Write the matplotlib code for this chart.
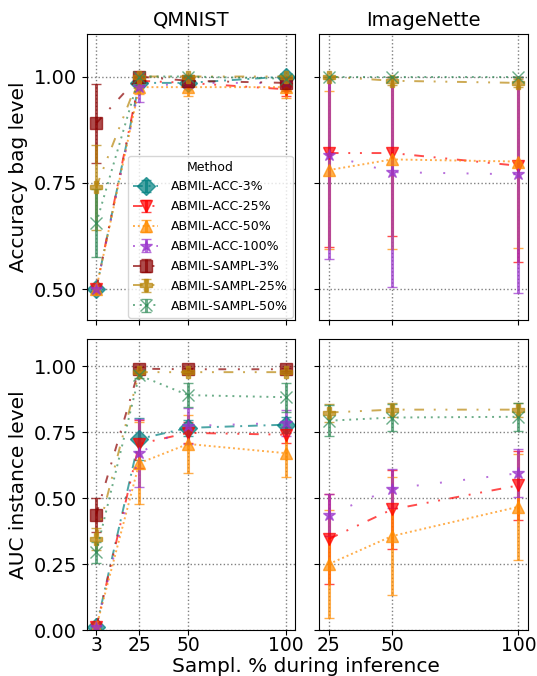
import numpy as np
import matplotlib
matplotlib.use("Agg")
import matplotlib.pyplot as plt

# methods + styles
methods = ["ABMIL-ACC-3%", "ABMIL-ACC-25%", "ABMIL-ACC-50%", "ABMIL-ACC-100%",
           "ABMIL-SAMPL-3%", "ABMIL-SAMPL-25%", "ABMIL-SAMPL-50%"]
colors = ["teal", "red", "darkorange", "darkorchid", "darkred", "darkgoldenrod", "seagreen"]
markers = ["D", "v", "^", "*", "s", "P", "x"]
dashes = [(5, 3, 1, 3), (5, 5, 1, 5, 1, 5), (1, 1.5), (1, 11), (4, 6, 1, 6),
          (5, 5, 1, 5, 1, 5), (1, 2.5)]

x_qmnist = [3, 25, 50, 100]
x_inette = [25, 50, 100]

# QMNIST - bag accuracy
qm_bag = [[0.50, 0.985, 0.985, 1.00],
          [0.50, 0.99, 0.985, 0.97],
          [0.50, 0.975, 0.975, 0.975],
          [0.50, 0.975, 0.985, 0.985],
          [0.89, 1.00, 0.99, 0.985],
          [0.74, 1.00, 1.00, 1.00],
          [0.655, 1.00, 1.00, 0.995]]
qm_bag_err = [[0.005, 0.01, 0.01, 0.005],
              [0.005, 0.01, 0.01, 0.015],
              [0.005, 0.015, 0.02, 0.025],
              [0.005, 0.035, 0.01, 0.01],
              [0.093, 0.005, 0.01, 0.02],
              [0.10, 0.0, 0.0, 0.0],
              [0.08, 0.0, 0.0, 0.01]]

# ImageNette - bag accuracy (no ACC-3% / SAMPL-3% runs)
in_bag = [[np.nan] * 3,
          [0.82, 0.82, 0.79],
          [0.78, 0.805, 0.80],
          [0.815, 0.775, 0.77],
          [np.nan] * 3,
          [1.00, 0.99, 0.985],
          [1.00, 1.00, 1.00]]
in_bag_err = [[0, 0, 0],
              [0.22, 0.195, 0.226],
              [0.185, 0.21, 0.203],
              [0.245, 0.27, 0.28],
              [0, 0, 0],
              [0.005, 0.01, 0.01],
              [0.0, 0.0, 0.0]]

# QMNIST - instance AUC
qm_auc = [[0.01, 0.724, 0.766, 0.778],
          [0.01, 0.705, 0.747, 0.74],
          [0.01, 0.632, 0.705, 0.67],
          [0.01, 0.67, 0.773, 0.785],
          [0.437, 0.99, 0.988, 0.988],
          [0.345, 0.977, 0.977, 0.977],
          [0.295, 0.965, 0.89, 0.882]]
qm_auc_err = [[0.005, 0.08, 0.03, 0.03],
              [0.005, 0.09, 0.04, 0.03],
              [0.005, 0.155, 0.11, 0.09],
              [0.005, 0.13, 0.07, 0.05],
              [0.065, 0.005, 0.005, 0.005],
              [0.04, 0.005, 0.005, 0.005],
              [0.04, 0.01, 0.045, 0.055]]

# ImageNette - instance AUC
in_auc = [[np.nan] * 3,
          [0.345, 0.457, 0.548],
          [0.25, 0.356, 0.467],
          [0.437, 0.536, 0.594],
          [np.nan] * 3,
          [0.824, 0.835, 0.835],
          [0.793, 0.805, 0.808]]
in_auc_err = [[0, 0, 0],
              [0.17, 0.15, 0.13],
              [0.205, 0.222, 0.2],
              [0.08, 0.075, 0.09],
              [0, 0, 0],
              [0.034, 0.027, 0.027],
              [0.058, 0.05, 0.053]]


def draw(ax, xs, ys, errs):
    for i in range(len(methods)):
        y = np.array(ys[i], dtype=float)
        e = np.array(errs[i], dtype=float)
        hi = np.minimum(y + e, 1.0) - y
        eb = ax.errorbar(xs, y, yerr=[e, hi], color=colors[i], marker=markers[i],
                         markersize=9, linewidth=1.4, elinewidth=2.2, capsize=3.5,
                         alpha=0.7, label=methods[i])
        eb.lines[0].set_dashes(dashes[i])
    ax.grid(True, linestyle=":", color="gray", linewidth=1)
    ax.tick_params(axis="y", labelsize=14)
    ax.tick_params(axis="x", labelsize=13.5, pad=1)


fig, axes = plt.subplots(2, 2, figsize=(5.37, 6.76), dpi=100, sharey="row",
                         gridspec_kw={"height_ratios": [286, 291]})
plt.subplots_adjust(left=0.1615, right=0.9832, bottom=0.068, top=0.9497,
                    wspace=0.115, hspace=0.065)

draw(axes[0, 0], x_qmnist, qm_bag, qm_bag_err)
draw(axes[0, 1], x_inette, in_bag, in_bag_err)
draw(axes[1, 0], x_qmnist, qm_auc, qm_auc_err)
draw(axes[1, 1], x_inette, in_auc, in_auc_err)

for ax in axes[:, 0]:
    ax.set_xticks(x_qmnist)
for ax in axes[:, 1]:
    ax.set_xticks(x_inette)
for ax in axes[0, :]:
    ax.set_ylim(0.427, 1.1)
    ax.set_yticks([0.5, 0.75, 1.0])
    ax.tick_params(labelbottom=False)
for ax in axes[1, :]:
    ax.set_ylim(0.0, 1.103)
    ax.set_yticks([0.0, 0.25, 0.5, 0.75, 1.0])

axes[0, 0].set_yticklabels(["0.50", "0.75", "1.00"])
axes[1, 0].set_yticklabels(["0.00", "0.25", "0.50", "0.75", "1.00"])

axes[0, 0].set_title("QMNIST", fontsize=14)
axes[0, 1].set_title("ImageNette", fontsize=14)
axes[0, 0].set_ylabel("Accuracy bag level", fontsize=14.5)
axes[1, 0].set_ylabel("AUC instance level", fontsize=14.5)
fig.text(0.57, 0.0, "Sampl. % during inference", ha="center", va="bottom", fontsize=14.5)

axes[0, 0].legend(title="Method", loc="lower right", fontsize=9, title_fontsize=9,
                  handlelength=2.0, handletextpad=1.0, labelspacing=0.55,
                  borderaxespad=0.2)

plt.savefig("out.png", dpi=100)
